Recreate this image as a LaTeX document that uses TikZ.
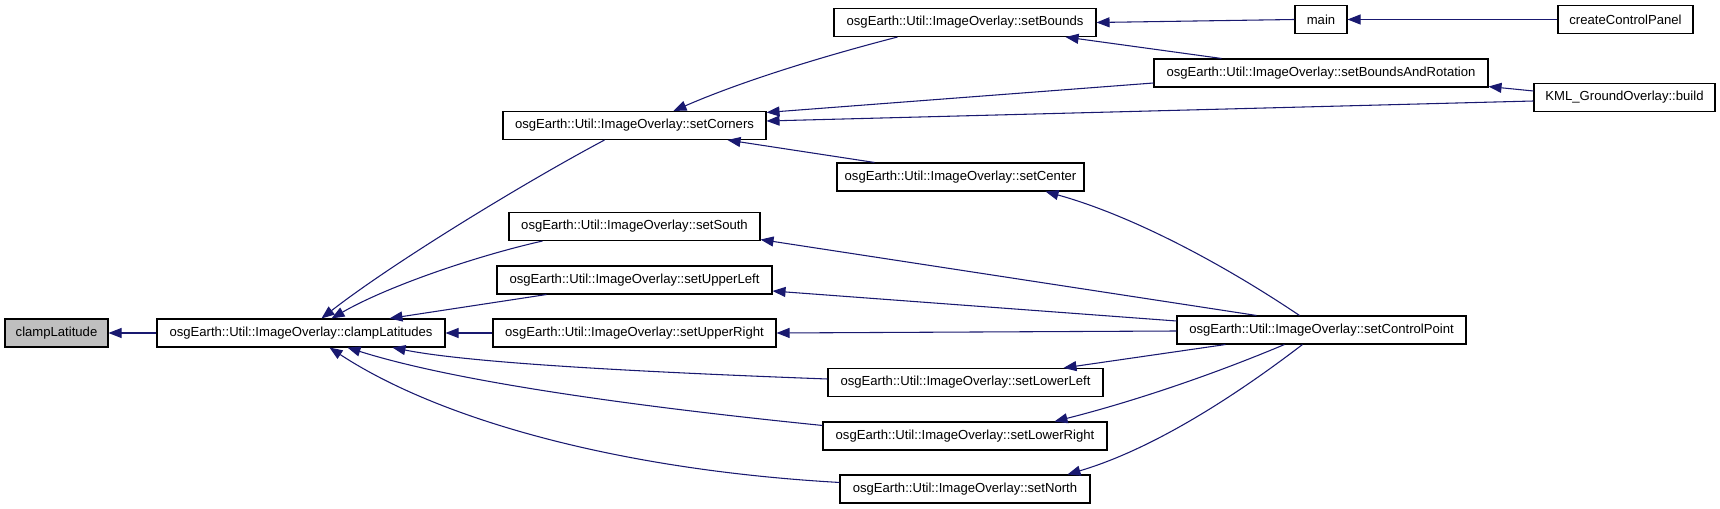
\documentclass[tikz,border=0pt]{standalone}
\usepackage{fontspec}
\setmainfont{Liberation Sans}
\usetikzlibrary{calc,arrows.meta}
\definecolor{edgeblue}{RGB}{25,25,112}
\definecolor{hlgray}{RGB}{191,191,191}
\begin{document}
\begin{tikzpicture}[x=0.75pt,y=-0.75pt,
  box/.style={draw=black, line width=0.8pt, fill=white, inner sep=1pt,
    minimum height=21pt, font=\fontsize{9.83}{11}\selectfont, text=black},
  edge/.style={draw=edgeblue, line width=0.8pt,
    -{Triangle[length=9.75pt,width=7.5pt,fill=edgeblue]}}]
\fill[white] (0,0) rectangle (1720,509);
\useasboundingbox (0,0) rectangle (1720,509);

% nodes
\node[box, fill=hlgray, minimum width=77.25pt] (cl)  at (56.5,333)  {clampLatitude};
\node[box, minimum width=216pt]    (cls) at (301,333)   {osgEarth::Util::ImageOverlay::clampLatitudes};
\node[box, minimum width=197.25pt] (sc)  at (634.5,125.5) {osgEarth::Util::ImageOverlay::setCorners};
\node[box, minimum width=188.25pt] (ss)  at (634.5,226.5) {osgEarth::Util::ImageOverlay::setSouth};
\node[box, minimum width=206.25pt] (sul) at (634.5,280) {osgEarth::Util::ImageOverlay::setUpperLeft};
\node[box, minimum width=212.25pt] (sur) at (634.5,333) {osgEarth::Util::ImageOverlay::setUpperRight};
\node[box, minimum width=196.5pt]  (sb)  at (965,22.5)  {osgEarth::Util::ImageOverlay::setBounds};
\node[box, minimum width=185.25pt] (sce) at (960.5,177) {osgEarth::Util::ImageOverlay::setCenter};
\node[box, minimum width=206.25pt] (sll) at (965.5,382.5) {osgEarth::Util::ImageOverlay::setLowerLeft};
\node[box, minimum width=213pt]    (slr) at (965,436)   {osgEarth::Util::ImageOverlay::setLowerRight};
\node[box, minimum width=187.5pt]  (sn)  at (965,489)   {osgEarth::Util::ImageOverlay::setNorth};
\node[box, minimum width=39pt]     (main) at (1321,19.5) {main};
\node[box, minimum width=250.5pt]  (sbr) at (1321,73)   {osgEarth::Util::ImageOverlay::setBoundsAndRotation};
\node[box, minimum width=216.75pt] (scp) at (1321.5,330) {osgEarth::Util::ImageOverlay::setControlPoint};
\node[box, minimum width=101.25pt] (ccp) at (1625.5,19.5) {createControlPanel};
\node[box, minimum width=135.75pt] (kml) at (1624.5,97.5) {KML\_GroundOverlay::build};

% edges into clampLatitude / clampLatitudes
\draw[edge] (cls.west) -- (cl.east);
\draw[edge] ($(sc.south west)+(102,0)$) .. controls (520,185) and (390,265) .. ($(cls.north west)+(165,0)$);
\draw[edge] ($(ss.south west)+(34,0)$) .. controls (480,255) and (390,285) .. ($(cls.north west)+(175,0)$);
\draw[edge] ($(sul.south west)+(50,0)$) -- ($(cls.north west)+(233,0)$);
\draw[edge] (sur.west) -- (cls.east);
\draw[edge] ($(sll.west)+(0,-3.5)$) .. controls (640,372) and (470,363) .. ($(cls.south west)+(236,0)$);
\draw[edge] ($(slr.north west)+(0,4)$) .. controls (620,405) and (450,380) .. ($(cls.south west)+(191,0)$);
\draw[edge] ($(sn.north west)+(0,8)$) .. controls (620,470) and (440,420) .. ($(cls.south west)+(173,0)$);

% edges into setCorners
\draw[edge] ($(sb.south west)+(64,0)$) .. controls (820,57) and (740,82) .. ($(sc.north west)+(171,0)$);
\draw[edge] ($(sbr.west)+(0,10)$) -- ($(sc.north east)+(0,1.5)$);
\draw[edge] ($(kml.west)+(0,3.5)$) -- ($(sc.east)+(0,-4.5)$);
\draw[edge] ($(sce.north west)+(38,0)$) -- ($(sc.south east)+(-39,0)$);

% edges into setBounds / main / setBoundsAndRotation
\draw[edge] (main.west) -- (sb.east);
\draw[edge] ($(sbr.north west)+(68,0)$) -- ($(sb.south east)+(-31,0)$);
\draw[edge] (ccp.west) -- (main.east);
\draw[edge] ($(kml.west)+(0,-6.5)$) -- ($(sbr.south east)+(0,-1)$);

% edges from setControlPoint
\draw[edge] ($(scp.north west)+(123,0)$) .. controls (1220,262) and (1130,215) .. ($(sce.south east)+(-39,0)$);
\draw[edge] ($(scp.north west)+(80,0)$) -- ($(ss.south east)+(0,-1.5)$);
\draw[edge] ($(scp.west)+(0,-9)$) -- ($(sul.east)+(0,11)$);
\draw[edge] ($(scp.west)+(0,1)$) -- (sur.east);
\draw[edge] ($(scp.south west)+(49,0)$) -- ($(sll.north west)+(236,0)$);
\draw[edge] ($(scp.south west)+(108,0)$) .. controls (1200,380) and (1120,405) .. ($(slr.north west)+(232,0)$);
\draw[edge] ($(scp.south west)+(126,0)$) .. controls (1230,400) and (1150,450) .. ($(sn.north west)+(228,0)$);
\end{tikzpicture}
\end{document}
